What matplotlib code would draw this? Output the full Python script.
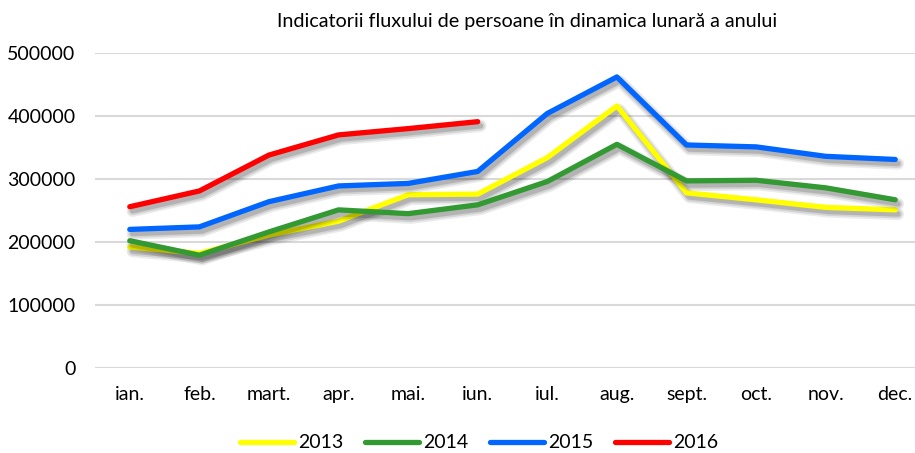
import matplotlib
matplotlib.use("Agg")
import matplotlib.pyplot as plt
import matplotlib.patheffects as pe
from matplotlib.lines import Line2D

plt.rcParams['font.family'] = ['Lato', 'DejaVu Sans']

months = ["ian.", "feb.", "mart.", "apr.", "mai.", "iun.", "iul.", "aug.", "sept.", "oct.", "nov.", "dec."]
y2013 = [192000, 182000, 211000, 233000, 275000, 276000, 334000, 416000, 278000, 267000, 255000, 251000]
y2014 = [202000, 179000, 216000, 251000, 245000, 259000, 296000, 355000, 297000, 298000, 286000, 267000]
y2015 = [220000, 224000, 264000, 289000, 293000, 312000, 404000, 462000, 354000, 351000, 336000, 331000]
y2016 = [256000, 281000, 338000, 370000, 380000, 391000]
years = ["2013", "2014", "2015", "2016"]
colors = ["#FFFF00", "#339933", "#0066FF", "#FF0000"]
title = "Indicatorii fluxului de persoane în dinamica lunară a anului"
yticks = [0, 100000, 200000, 300000, 400000, 500000]

fig = plt.figure(figsize=(9.15, 4.53), dpi=100)
ax = fig.add_axes([95/915, 85/453, (930-95)/915, (368-53)/453])

lw = 3.8
shadow = [
    pe.SimpleLineShadow(offset=(2, -3), shadow_color='black', alpha=0.08, linewidth=lw + 5),
    pe.SimpleLineShadow(offset=(2, -3), shadow_color='black', alpha=0.10, linewidth=lw + 2.5),
    pe.SimpleLineShadow(offset=(2, -3), shadow_color='black', alpha=0.15, linewidth=lw),
    pe.Normal(),
]

series = [y2013, y2014, y2015, y2016]
for name, vals, c in zip(years, series, colors):
    x = list(range(len(vals)))
    ax.plot(x, vals, color=c, lw=lw, label=name, solid_capstyle='round',
            solid_joinstyle='round', path_effects=shadow, zorder=3)

ax.set_xlim(-0.5, 11.5)
ax.set_ylim(0, 500000)
ax.set_yticks(yticks)
ax.set_yticklabels([str(v) for v in yticks])
ax.set_xticks(range(12))
ax.set_xticklabels(months)
ax.yaxis.grid(True, color='#D9D9D9', lw=1.5)
ax.set_axisbelow(True)
for s in ax.spines.values():
    s.set_visible(False)
ax.tick_params(axis='both', length=0, labelsize=14, colors='#000000')
ax.tick_params(axis='x', pad=13)
ax.tick_params(axis='y', pad=14)

fig.text(527/915, 1 - 22/453, title, ha='center', va='center', fontsize=14.2)

hs = [Line2D([0], [0], color=c, lw=lw, solid_capstyle='round') for c in colors]
fig.legend(hs, years, loc='center', bbox_to_anchor=(479/915, 10/453), ncol=4,
           frameon=False, fontsize=14, handlelength=2.8, handletextpad=0.2,
           columnspacing=1.1)

fig.savefig("out.png", dpi=100)
